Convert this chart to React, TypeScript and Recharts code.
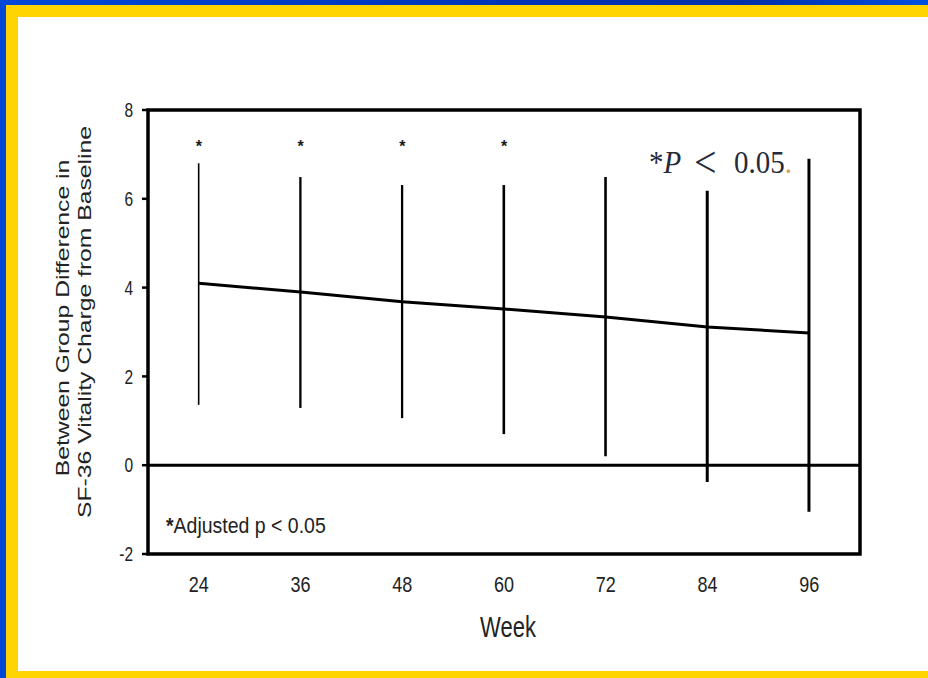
import React from "react";
import {
  ComposedChart,
  Line,
  Bar,
  Scatter,
  XAxis,
  YAxis,
  ReferenceArea,
  ReferenceLine,
} from "recharts";

// Study weeks on the x axis
const weeks = [24, 36, 48, 60, 72, 84, 96];
// Between-group difference in SF-36 vitality change from baseline
const diffMeans = [4.1, 3.9, 3.68, 3.52, 3.34, 3.11, 2.98];
// Confidence interval bounds for each week
const ciLower = [1.36, 1.29, 1.06, 0.7, 0.2, -0.38, -1.05];
const ciUpper = [6.8, 6.49, 6.31, 6.31, 6.49, 6.18, 6.9];
// Weeks flagged as significant (adjusted p < 0.05)
const significantWeeks = [24, 36, 48, 60];
const starLevel = 7.25;
const yTicks = [-2, 0, 2, 4, 6, 8];

const rows = weeks.map((week, i) => ({
  week,
  diff: diffMeans[i],
  range: [ciLower[i], ciUpper[i]],
}));
const starRows = significantWeeks.map((week) => ({ week, star: starLevel }));

const SANS = "'Liberation Sans', Arial, Helvetica, sans-serif";
const SERIF = "'Liberation Serif', 'Times New Roman', serif";
const INK = "#1a1a1a";

// Whisker stroke widths, left to right
const whiskerWidths = [1.6, 2.3, 2.3, 2.6, 2.6, 3, 3];

const Whisker = (props: any) => {
  const { x, y, width, height, index } = props;
  if (x == null || y == null) return null;
  const cx = x + width / 2;
  return (
    <line
      x1={cx}
      x2={cx}
      y1={y}
      y2={y + height}
      stroke="#000"
      strokeWidth={whiskerWidths[index] ?? 2.5}
    />
  );
};

const Star = (props: any) => {
  const { cx, cy } = props;
  return (
    <text
      x={cx}
      y={cy + 9}
      textAnchor="middle"
      fontFamily={SANS}
      fontWeight="bold"
      fontSize={16}
      fill={INK}
    >
      *
    </text>
  );
};

const XTick = (props: any) => {
  const { x, y, payload } = props;
  return (
    <g transform={`translate(${x},${y + 38})`}>
      <text
        textAnchor="middle"
        transform="scale(1,1.25)"
        fontFamily={SANS}
        fontSize={18}
        fill="#222"
      >
        {payload.value}
      </text>
    </g>
  );
};

const YTick = (props: any) => {
  const { x, y, payload } = props;
  return (
    <g transform={`translate(${x},${y})`}>
      <text
        textAnchor="end"
        y={5.6}
        transform="scale(1,1.3)"
        fontFamily={SANS}
        fontSize={15.5}
        fill="#222"
      >
        {payload.value}
      </text>
    </g>
  );
};

export default function App() {
  return (
    <div
      style={{
        position: "absolute",
        left: 0,
        top: 0,
        width: 928,
        height: 678,
        overflow: "hidden",
        background: "linear-gradient(90deg, #0048d8 0%, #0032b4 60%, #0030a8 80%, #0050e0 100%)",
      }}
    >
      <div
        style={{
          position: "absolute",
          left: 6,
          top: 5,
          width: 940,
          height: 673,
          background: "#ffd400",
        }}
      />
      <div
        style={{
          position: "absolute",
          left: 18,
          top: 17,
          width: 930,
          height: 654,
          background: "#ffffff",
        }}
      />
      <div style={{ position: "absolute", left: 0, top: 0 }}>
        <ComposedChart
          width={928}
          height={678}
          data={rows}
          margin={{ top: 110, right: 68, bottom: 94, left: 88 }}
        >
          <XAxis
            dataKey="week"
            type="number"
            domain={[18, 102]}
            ticks={weeks}
            axisLine={false}
            tickLine={false}
            tickSize={0}
            tickMargin={0}
            height={30}
            tick={<XTick />}
            interval={0}
          />
          <YAxis
            type="number"
            domain={[-2, 8]}
            ticks={yTicks}
            axisLine={false}
            tickLine={{ stroke: "#000", strokeWidth: 2.5 }}
            tickSize={6}
            tickMargin={9}
            width={60}
            tick={<YTick />}
            interval={0}
          />
          <ReferenceArea
            x1={18}
            x2={102}
            y1={-2}
            y2={8}
            fill="none"
            fillOpacity={0}
            stroke="#000"
            strokeWidth={3.5}
          />
          <ReferenceLine y={0} stroke="#000" strokeWidth={3} />
          <Bar dataKey="range" shape={<Whisker />} isAnimationActive={false} />
          <Line
            type="linear"
            dataKey="diff"
            stroke="#000"
            strokeWidth={3}
            dot={false}
            isAnimationActive={false}
          />
          <Scatter
            data={starRows}
            dataKey="star"
            shape={<Star />}
            isAnimationActive={false}
          />
          {/* significance note, upper right */}
          <text
            x={649}
            y={173}
            fontFamily={SERIF}
            fontSize={29}
            fill="#262a38"
            transform="translate(0,-21) scale(1,1.12)"
          >
            <tspan>*</tspan>
            <tspan fontStyle="italic">P</tspan>
            <tspan x={694} dy={4} fontSize={40}>&lt;</tspan>
            <tspan x={734} dy={-4}>0.05</tspan>
            <tspan fill="#d9a060">.</tspan>
          </text>
          {/* footnote, lower left */}
          <text
            x={166}
            y={533}
            fontFamily={SANS}
            fontSize={19.5}
            fill="#222"
            transform="translate(0,-74.6) scale(1,1.14)"
          >
            <tspan fontWeight="bold">*</tspan>
            <tspan>Adjusted p &lt; 0.05</tspan>
          </text>
          {/* x axis title */}
          <text
            textAnchor="middle"
            fontFamily={SANS}
            fontSize={22}
            fill="#222"
            transform="translate(508,637) scale(1,1.35)"
          >
            Week
          </text>
          {/* y axis title, two lines */}
          <text
            textAnchor="middle"
            fontFamily={SANS}
            fontSize={19}
            fill="#222"
            transform="translate(68.5,318) rotate(-90) scale(1.3,1)"
          >
            Between Group Difference in
          </text>
          <text
            textAnchor="middle"
            fontFamily={SANS}
            fontSize={19}
            fill="#222"
            transform="translate(91,322) rotate(-90) scale(1.3,1)"
          >
            SF-36 Vitality Charge from Baseline
          </text>
        </ComposedChart>
      </div>
    </div>
  );
}
